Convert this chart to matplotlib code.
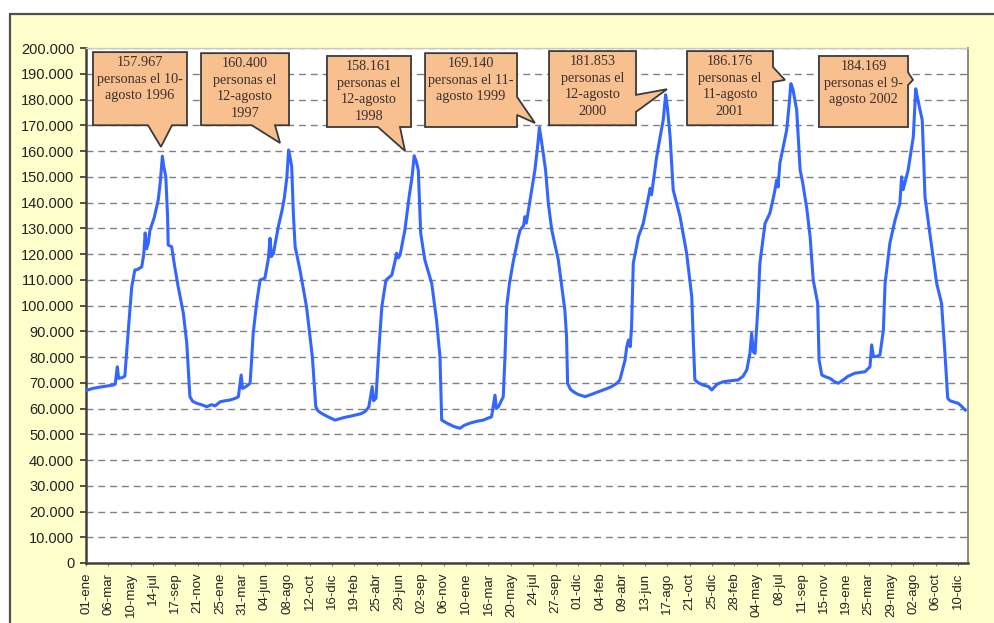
import datetime as dt
import matplotlib
matplotlib.use("Agg")
import matplotlib.pyplot as plt
from matplotlib.patches import Polygon, Rectangle
from matplotlib.ticker import FuncFormatter, MultipleLocator

# ---------------- data ----------------
fecha_inicio = dt.date(1996, 1, 1)

# days since 01-ene-1996
dia = [0, 20, 40, 79, 85, 91, 95, 105, 113, 123, 133, 142, 150, 162, 168, 172, 176, 181, 186,
       198, 210, 216, 222, 226, 232, 237, 239, 249, 258, 268, 283, 293, 302, 310, 322, 335, 351,
       365, 375, 390, 404, 419, 435, 443, 451, 455, 465, 477, 481, 486, 496, 506, 520, 530, 535,
       539, 545, 559, 570, 577, 584, 589, 594, 598, 603, 608, 622, 641, 658, 668, 675, 685, 700,
       724, 750, 772, 800, 811, 822, 832, 836, 843, 850, 860, 872, 889, 898, 903, 908, 913, 927,
       940, 948, 954, 960, 966, 973, 985, 1005, 1019, 1029, 1034, 1049, 1070, 1087, 1100, 1116,
       1135, 1155, 1179, 1189, 1193, 1199, 1213, 1218, 1223, 1231, 1242, 1257, 1262, 1272, 1276,
       1280, 1291, 1305, 1313, 1318, 1324, 1336, 1344, 1354, 1373, 1392, 1397, 1400, 1408, 1417,
       1430, 1451, 1470, 1489, 1510, 1528, 1545, 1552, 1567, 1572, 1577, 1582, 1586, 1591, 1606,
       1620, 1635, 1640, 1644, 1659, 1669, 1678, 1685, 1690, 1698, 1707, 1727, 1746, 1761, 1765,
       1770, 1780, 1794, 1810, 1819, 1835, 1853, 1875, 1896, 1910, 1921, 1930, 1935, 1940, 1945,
       1954, 1959, 1974, 1988, 2000, 2008, 2012, 2017, 2037, 2044, 2049, 2055, 2066, 2076, 2083,
       2095, 2105, 2114, 2127, 2131, 2139, 2150, 2163, 2175, 2187, 2200, 2215, 2235, 2250, 2265,
       2279, 2284, 2289, 2300, 2308, 2318, 2323, 2337, 2352, 2366, 2371, 2375, 2379, 2390, 2405,
       2412, 2418, 2431, 2439, 2453, 2473, 2487, 2497, 2505, 2512, 2521, 2536, 2548, 2556]

# persons (thousands)
miles = [67.0, 67.8, 68.3, 69.1, 69.5, 76.2, 71.7, 72.0, 72.6, 90.5, 107.3, 113.8, 114.0, 115.0,
         120.0, 128.2, 122.0, 124.3, 129.3, 134.0, 141.0, 148.0, 157.967, 154.0, 150.0, 135.0,
         123.5, 122.8, 115.0, 107.3, 97.0, 85.3, 64.6, 62.8, 62.0, 61.5, 60.7, 61.5, 61.0, 62.6,
         63.0, 63.3, 64.0, 64.6, 73.0, 67.8, 68.5, 69.8, 78.0, 89.2, 100.9, 109.9, 110.6, 118.0,
         126.1, 119.0, 120.3, 130.6, 137.0, 142.2, 150.0, 160.4, 157.0, 153.9, 135.0, 122.8,
         113.8, 99.6, 80.1, 60.7, 59.0, 58.1, 57.0, 55.5, 56.5, 57.1, 58.0, 58.8, 60.5, 68.5,
         63.0, 64.0, 80.1, 99.6, 109.9, 111.8, 117.0, 120.3, 118.5, 119.6, 129.3, 142.9, 150.0,
         158.161, 156.0, 152.6, 128.0, 117.7, 108.6, 94.4, 80.1, 55.5, 54.3, 53.0, 52.3, 53.5,
         54.3, 55.0, 55.5, 56.8, 65.2, 60.0, 60.7, 64.6, 80.1, 99.6, 108.6, 117.0, 126.7, 129.3,
         131.0, 134.5, 132.0, 141.0, 152.6, 162.0, 169.14, 164.0, 152.6, 139.7, 129.3, 117.7,
         98.3, 87.9, 69.8, 67.5, 66.5, 65.5, 64.6, 65.5, 66.5, 67.5, 68.5, 70.0, 71.1, 78.8, 84.0,
         86.6, 84.0, 91.8, 116.4, 126.7, 131.9, 142.2, 145.5, 143.0, 157.8, 165.5, 172.0, 181.853,
         177.0, 165.5, 144.9, 134.5, 120.3, 103.4, 87.9, 71.1, 70.0, 69.1, 68.5, 67.2, 69.5, 70.4,
         70.8, 71.1, 72.5, 75.0, 81.4, 89.2, 82.0, 81.4, 100.9, 116.4, 131.9, 135.8, 143.0, 148.7,
         146.0, 155.2, 168.2, 178.0, 186.176, 184.0, 175.9, 152.6, 148.0, 138.0, 126.7, 109.9,
         100.9, 78.8, 73.0, 72.3, 71.7, 70.5, 69.8, 71.0, 72.5, 73.7, 74.0, 74.3, 76.2, 84.7, 80.1,
         80.3, 80.8, 90.5, 108.6, 124.3, 133.2, 139.7, 150.0, 145.0, 146.8, 152.6, 165.5, 184.169,
         180.0, 172.0, 142.2, 128.0, 108.6, 100.9, 81.4, 64.0, 63.0, 62.6, 62.0, 60.5, 59.4]

personas = [m * 1000 for m in miles]

etiquetas_x = ["01-ene", "06-mar", "10-may", "14-jul", "17-sep", "21-nov", "25-ene", "31-mar",
               "04-jun", "08-ago", "12-oct", "16-dic", "19-feb", "25-abr", "29-jun", "02-sep",
               "06-nov", "10-ene", "16-mar", "20-may", "24-jul", "27-sep", "01-dic", "04-feb",
               "09-abr", "13-jun", "17-ago", "21-oct", "25-dic", "28-feb", "04-may", "08-jul",
               "11-sep", "15-nov", "19-ene", "25-mar", "29-may", "02-ago", "06-oct", "10-dic"]
paso_etiquetas = 65  # days between category labels

textos_llamada = ["157.967\npersonas el 10-\nagosto 1996",
                  "160.400\npersonas el\n12-agosto\n1997",
                  "158.161\npersonas el\n12-agosto\n1998",
                  "169.140\npersonas el 11-\nagosto 1999",
                  "181.853\npersonas el\n12-agosto\n2000",
                  "186.176\npersonas el\n11-agosto\n2001",
                  "184.169\npersonas el 9-\nagosto 2002"]

# ---------------- layout (axes fractions) ----------------
# (x0, x1, y0, y1, side, base_a, base_b, tip_x, tip_y)
llamadas = [
    (0.0079, 0.1145, 0.850, 0.992, "bottom", 0.0703, 0.0975, 0.085, 0.808),
    (0.1304, 0.2302, 0.850, 0.990, "bottom", 0.1880, 0.2143, 0.220, 0.8155),
    (0.2732, 0.3685, 0.8466, 0.9845, "bottom", 0.3310, 0.3560, 0.3617, 0.800),
    (0.3844, 0.4887, 0.8466, 0.990, "right", 0.870, 0.905, 0.509, 0.8544),
    (0.5250, 0.6236, 0.850, 0.994, "right", 0.876, 0.909, 0.6587, 0.920),
    (0.6814, 0.7789, 0.850, 0.994, "right", 0.934, 0.963, 0.7925, 0.938),
    (0.8310, 0.9320, 0.8466, 0.9845, "right", 0.928, 0.953, 0.9376, 0.938),
]

W, H, DPI = 994, 623, 100
fig = plt.figure(figsize=(W / DPI, H / DPI), dpi=DPI, facecolor="white")

# yellow chart panel (background axes)
bg = fig.add_axes([0, 0, 1, 1], zorder=-10)
bg.set_xlim(0, W)
bg.set_ylim(H, 0)
bg.axis("off")
bg.add_patch(Rectangle((10, 14), W + 20, H + 20, facecolor="#FFFFCC", edgecolor="#505050",
                       linewidth=1.6))

ax = fig.add_axes([86 / W, 1 - 563 / H, (968 - 86) / W, (563 - 48) / H], zorder=1)
ax.set_facecolor("white")

fechas = [fecha_inicio + dt.timedelta(days=d) for d in dia]
x = [(f - fecha_inicio).days for f in fechas]
ax.plot(x, personas, color="#3366FF", linewidth=2.2, zorder=3, solid_joinstyle="round")

ax.set_xlim(0, 2564)
ax.set_ylim(0, 200000)

ax.yaxis.set_major_locator(MultipleLocator(10000))
ax.yaxis.set_major_formatter(FuncFormatter(lambda v, p: f"{int(v):,}".replace(",", ".")))
ax.grid(axis="y", color="#808080", linestyle=(0, (5, 3.5)), linewidth=1.0, zorder=1)
ax.set_axisbelow(True)

ax.set_xticks([i * paso_etiquetas for i in range(len(etiquetas_x))])
ax.set_xticklabels(etiquetas_x, rotation=90, fontsize=9.5, family="Liberation Sans",
                   color="#222222")
for lab in ax.get_yticklabels():
    lab.set_family("Liberation Sans")
ax.tick_params(axis="y", direction="out", length=4.5, width=1.2, pad=4, labelsize=10.5,
               colors="#333333", labelcolor="#222222")
ax.tick_params(axis="x", direction="out", length=2, width=0.8, pad=5, colors="#888888",
               labelcolor="#222222")

for side, col, lw in [("left", "#404040", 1.8), ("bottom", "#404040", 1.8),
                      ("right", "#808080", 1.3), ("top", "#c8c8c8", 1.0)]:
    ax.spines[side].set_color(col)
    ax.spines[side].set_linewidth(lw)

# callouts
for (x0, x1, y0, y1, side, ba, bb, tx, ty), txt in zip(llamadas, textos_llamada):
    if side == "bottom":
        verts = [(x0, y1), (x1, y1), (x1, y0), (bb, y0), (tx, ty), (ba, y0), (x0, y0)]
    else:
        verts = [(x0, y1), (x1, y1), (x1, bb), (tx, ty), (x1, ba), (x1, y0), (x0, y0)]
    poly = Polygon(verts, closed=True, transform=ax.transAxes, facecolor="#F9C08F",
                   edgecolor="#3a3a3a", linewidth=1.3, zorder=6, clip_on=False,
                   joinstyle="miter")
    ax.add_patch(poly)
    ax.text((x0 + x1) / 2, y1 - 0.008, txt, transform=ax.transAxes, ha="center", va="top",
            fontsize=10.3, family="Liberation Serif", color="#3a3030", linespacing=1.36,
            zorder=7)

fig.savefig("out.png", dpi=DPI, facecolor="white")
